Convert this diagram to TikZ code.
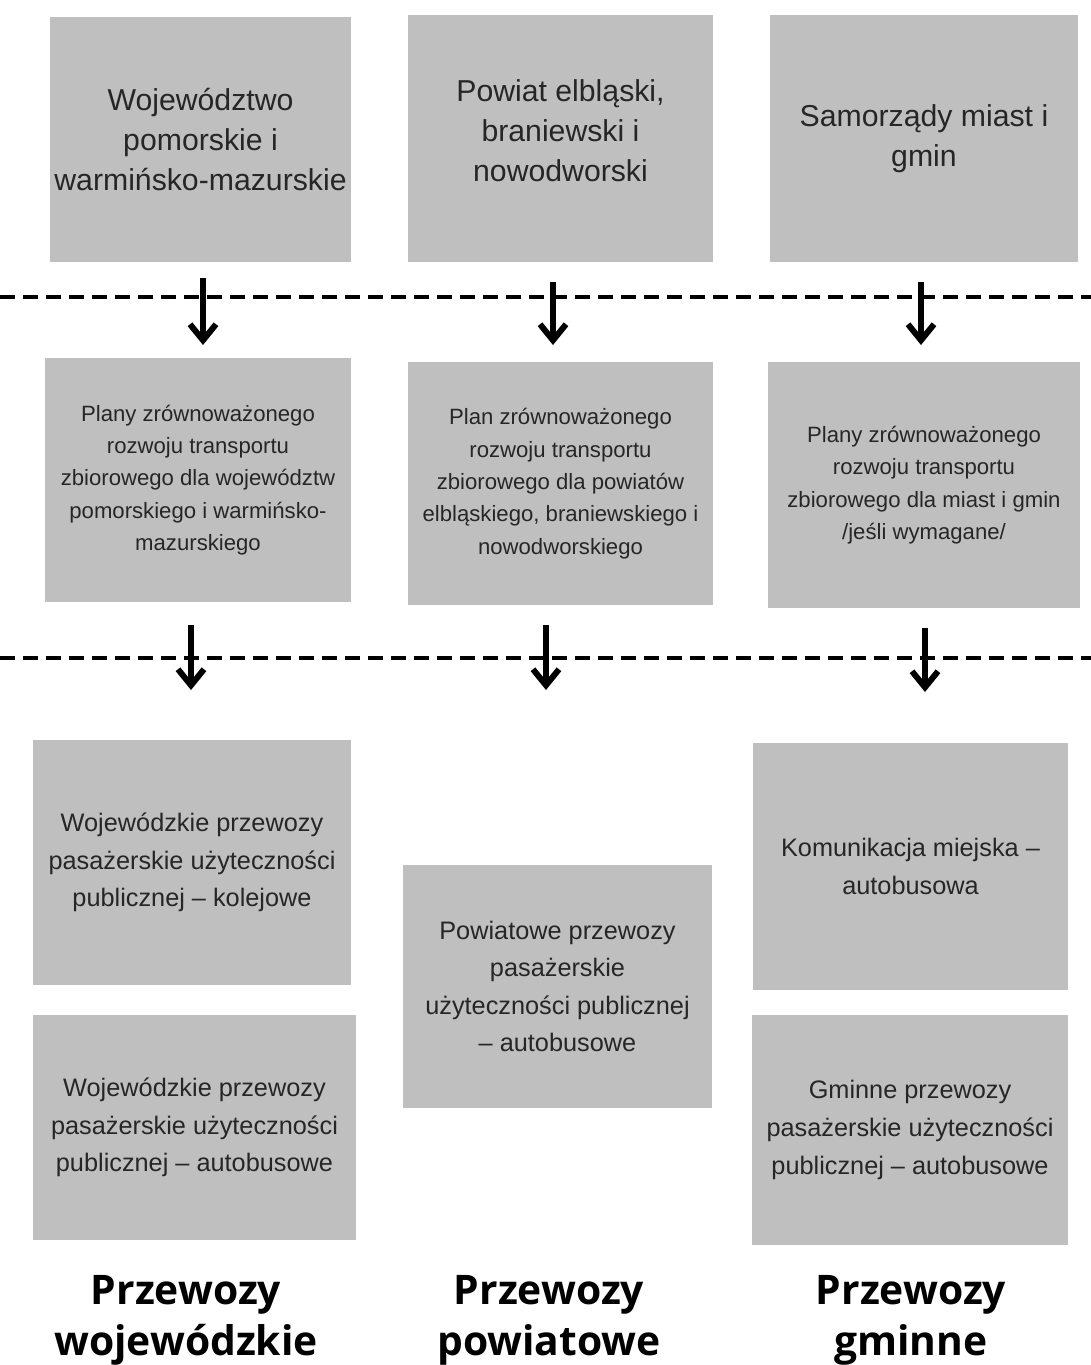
\documentclass[tikz,border=0pt]{standalone}
\usepackage{fontspec}
\setmainfont{Liberation Sans}
\newfontfamily\titlefont{Open Sans}
\usetikzlibrary{arrows.meta}
\tikzset{
	greybox/.style={
		fill=black!25,
		text=black!85,
		align=center,
		inner sep=0pt
	},
	bigtext/.style={font=\fontsize{8.6pt}{11.4pt}\selectfont},
	smalltext/.style={font=\fontsize{6.3pt}{9.2pt}\selectfont},
	midtext/.style={font=\fontsize{7.2pt}{10.7pt}\selectfont},
	dashline/.style={line width=1.4pt, dash pattern=on 0.15cm off 0.08cm},
	downarrow/.style={line width=1.7pt, -{Straight Barb[length=1.6mm,width=2.6mm]}},
	sidelabel/.style={
		align=center,
		font=\titlefont\bfseries\fontsize{11.6pt}{14.5pt}\selectfont
	}
}

\begin{document}
\begin{tikzpicture}
	\useasboundingbox (0,0) rectangle (10.91,-13.65);
	% organizatorzy
	\node[greybox, bigtext, minimum width=3.01cm, minimum height=2.45cm] (orgWoj) at (2.005,-1.395) {Województwo\\pomorskie i\\warmińsko-mazurskie};
	\node[greybox, minimum width=3.05cm, minimum height=2.47cm] (orgPow) at (5.605,-1.385) {};
	\node[bigtext, text=black!85, align=center, inner sep=0pt] (orgPowText) at ([yshift=0.08cm]orgPow.center) {Powiat elbląski,\\braniewski i\\nowodworski};
	\node[greybox, bigtext, minimum width=3.08cm, minimum height=2.47cm] (orgGmi) at (9.24,-1.385) {Samorządy miast i\\gmin};
	
	\coordinate (dashL1) at (0,-2.97);
	\coordinate (dashR1) at (10.91,-2.97);
	\draw[dashline] (dashL1) -- (dashR1);
	\coordinate (upWoj) at (2.03,-2.78);
	\coordinate (upPow) at (5.53,-2.82);
	\coordinate (upGmi) at (9.21,-2.82);
	\coordinate (downWoj) at (2.03,-3.45);
	\coordinate (downPow) at (5.53,-3.45);
	\coordinate (downGmi) at (9.21,-3.45);
	\draw[downarrow] (upWoj) -- (downWoj);
	\draw[downarrow] (upPow) -- (downPow);
	\draw[downarrow] (upGmi) -- (downGmi);
	
	% plany transportowe
	\node[greybox, smalltext, minimum width=3.06cm, minimum height=2.44cm] (planWoj) at (1.98,-4.80) {Plany zrównoważonego\\rozwoju transportu\\zbiorowego dla województw\\pomorskiego i warmińsko-\\mazurskiego};
	\node[greybox, smalltext, minimum width=3.05cm, minimum height=2.43cm] (planPow) at (5.605,-4.835) {Plan zrównoważonego\\rozwoju transportu\\zbiorowego dla powiatów\\elbląskiego, braniewskiego i\\nowodworskiego};
	\node[greybox, smalltext, minimum width=3.12cm, minimum height=2.46cm] (planGmi) at (9.24,-4.85) {Plany zrównoważonego\\rozwoju transportu\\zbiorowego dla miast i gmin\\/jeśli wymagane/};
	
	\coordinate (dashL2) at (0,-6.58);
	\coordinate (dashR2) at (10.91,-6.58);
	\draw[dashline] (dashL2) -- (dashR2);
	\coordinate (topWoj) at (1.91,-6.25);
	\coordinate (topPow) at (5.46,-6.25);
	\coordinate (topGmi) at (9.25,-6.28);
	\coordinate (endWoj) at (1.91,-6.90);
	\coordinate (endPow) at (5.46,-6.90);
	\coordinate (endGmi) at (9.25,-6.92);
	\draw[downarrow] (topWoj) -- (endWoj);
	\draw[downarrow] (topPow) -- (endPow);
	\draw[downarrow] (topGmi) -- (endGmi);
	
	% przewozy
	\node[greybox, midtext, minimum width=3.18cm, minimum height=2.45cm] (kolWoj) at (1.92,-8.625) {Wojewódzkie przewozy\\pasażerskie użyteczności\\publicznej -- kolejowe};
	\node[greybox, midtext, minimum width=3.23cm, minimum height=2.25cm] (busWoj) at (1.945,-11.275) {Wojewódzkie przewozy\\pasażerskie użyteczności\\publicznej -- autobusowe};
	\node[greybox, midtext, minimum width=3.09cm, minimum height=2.43cm] (busPow) at (5.575,-9.865) {Powiatowe przewozy\\pasażerskie\\użyteczności publicznej\\-- autobusowe};
	\node[greybox, midtext, minimum width=3.15cm, minimum height=2.47cm] (miejGmi) at (9.105,-8.665) {Komunikacja miejska --\\autobusowa};
	\node[greybox, midtext, minimum width=3.16cm, minimum height=2.30cm] (busGmi) at (9.10,-11.30) {Gminne przewozy\\pasażerskie użyteczności\\publicznej -- autobusowe};
	
	% podpisy
	\node[sidelabel] (lblWoj) at (1.86,-13.20) {Przewozy\\wojewódzkie};
	\node[sidelabel] (lblPow) at (5.49,-13.20) {Przewozy\\powiatowe};
	\node[sidelabel] (lblGmi) at (9.11,-13.20) {Przewozy\\gminne};
\end{tikzpicture}
\end{document}
